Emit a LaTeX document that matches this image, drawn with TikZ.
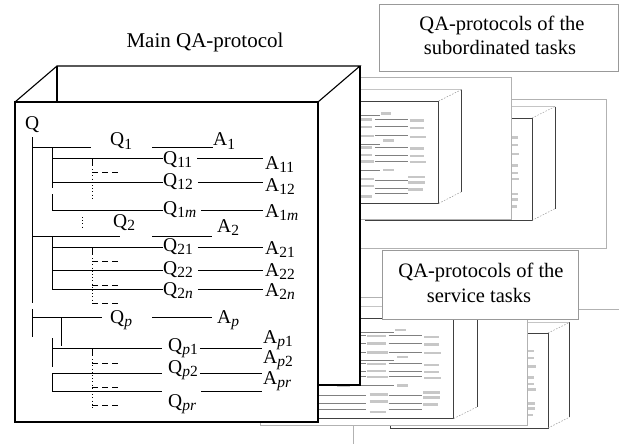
\documentclass[tikz,border=0pt]{standalone}
\usepackage{fontspec}
\setmainfont{Liberation Serif}
\usetikzlibrary{calc}

% lowered, slightly smaller index for Q/A labels
\newcommand\lsub[1]{\raisebox{-3.5pt}{\fontsize{15.5}{15.5}\selectfont #1}}

\tikzset{
  box/.style={line width=1.1pt, black, line join=miter},
  lbl/.style={anchor=base west, inner sep=0pt, font=\fontsize{19.5}{22}\selectfont},
  tree/.style={line width=0.9pt},
  stub/.style={line width=0.9pt, dash pattern=on 6pt off 4pt},
  dots/.style={line width=0.7pt, dash pattern=on 0.8pt off 2.4pt},
  page/.style={fill=white, draw=black!30, line width=0.9pt},
  caption/.style={fill=white, draw=black!40, line width=0.9pt},
  captext/.style={anchor=base, inner sep=0pt, font=\fontsize{20.5}{24}\selectfont},
  thumbedge/.style={line width=0.9pt, black!75},
  thumbfaint/.style={line width=0.5pt, black!35},
  thumbdash/.style={line width=0.5pt, black!40, dash pattern=on 1.5pt off 1.5pt},
  thumbline/.style={line width=0.5pt, black!50},
  thumbtext/.style={line width=2.6pt, black!22},
}

% miniature protocol box, drawn in the coordinates of the large one
\newcommand\thumbbox{%
  \fill[white] (15,102) rectangle (318,422);
  \draw[thumbedge] (15,102) rectangle (318,422);
  \draw[thumbfaint] (15,102) -- (57,66) -- (360,66);
  \draw[thumbedge] (360,66) -- (360,385);
  \draw[thumbdash] (318,102) -- (360,66) (318,422) -- (360,385);
}
\newcommand\thumbtree{%
  \foreach \xa/\xb/\yy in {26/42/122, 110/132/140, 213/232/140,
      163/197/159, 265/292/162, 163/197/183, 265/292/186,
      163/200/211, 265/295/214, 113/135/221, 217/237/226,
      163/197/248, 265/292/251, 163/197/271, 265/292/274,
      163/200/290, 265/295/293, 110/132/317, 217/237/317,
      168/200/345, 263/293/339, 263/293/356, 263/290/378,
      168/200/367, 168/197/401}
    {\draw[thumbtext] (\xa,\yy) -- (\xb,\yy);}
  \draw[thumbline] (32,137) -- (32,337)
    (32,147) -- (91,147) (152,147) -- (212,147)
    (52,147) -- (52,210)
    (32,236) -- (120,236) (152,236) -- (212,236)
    (52,236) -- (52,289)
    (32,317) -- (102,317) (152,317) -- (212,317)
    (61,317) -- (61,346) (52,338) -- (52,392);
  \foreach \yy in {158,182,210,247,270,289,348,373,391}
    {\draw[thumbline] (52,\yy) -- (162,\yy) (202,\yy) -- (262,\yy);}
}
\newcommand\thumbnail[4]{%
  \begin{scope}[shift={(#1,#2)}, xscale=#3, yscale=#4]
    \thumbbox
    \thumbtree
  \end{scope}
}
% one indented answer row of the large tree
\newcommand\subrow[4]{% #1 row y, #2 branch x, #3 question node, #4 answer node
  \coordinate (#3row) at (#2,#1);
  \draw[tree] (#3row) -- (#3row -| #3.west);
  \draw[tree] ($(#3row -| #3.east)+(5,0)$) -- ($(#3row -| #4.west)+(-2,0)$);
}

\begin{document}
\begin{tikzpicture}[x=1pt,y=-1pt]
\useasboundingbox (0,0) rectangle (619,444);
\clip (0,0) rectangle (619,444);

% ---- protocols of the service tasks ----
\draw[page] (353,309) rectangle (640,470);
\begin{scope}
  \clip (353,309) rectangle (640,470);
  \thumbnail{382.6}{302.7}{0.52}{0.297}
\end{scope}
\draw[page] (260,297) rectangle (527,425);
\begin{scope}
  \clip (260,297) rectangle (527,425);
  \thumbnail{275.6}{286}{0.56}{0.314}
\end{scope}
\node[caption, anchor=north west, minimum width=196, minimum height=69] (servbox) at (382,250) {};
\node[captext] (serv1) at (481,277) {QA-protocols of the};
\node[captext] (serv2) at (479,302) {service tasks};

% ---- protocols of the subordinated tasks ----
\draw[page] (340,99) rectangle (606,248);
\begin{scope}
  \clip (340,99) rectangle (606,248);
  \thumbnail{357.1}{85.4}{0.55}{0.32}
\end{scope}
\draw[page] (340,77) rectangle (511,219);
\begin{scope}
  \clip (340,77) rectangle (511,219);
  \thumbnail{263.75}{68.4}{0.55}{0.32}
\end{scope}
\node[caption, anchor=north west, minimum width=239, minimum height=67] (subbox) at (379,4) {};
\node[captext] (sub1) at (502,31) {QA-protocols of the};
\node[captext] (sub2) at (500,55) {subordinated tasks};

% ---- main protocol box ----
\node[anchor=base, inner sep=0pt, font=\fontsize{21}{24}\selectfont] (title) at (205,48) {Main QA-protocol};
\fill[white] (15,102) -- (57,66) -- (360,66) -- (360,385) -- (318,385) -- (318,422) -- (15,422) -- cycle;
\draw[box] (15,102) rectangle (318,422);
\draw[box] (15,102) -- (57,66) -- (360,66) -- (318,102);
\draw[box] (57,66) -- (57,102);
\draw[box] (360,66) -- (360,385) -- (318,385);

% labels
\node[lbl] (q)   at (25,129)  {Q};
\node[lbl] (q1)  at (110,146) {Q\lsub{1}};
\node[lbl] (a1)  at (213,146) {A\lsub{1}};
\node[lbl] (q11) at (163,164) {Q\lsub{11}};
\node[lbl] (a11) at (265,169) {A\lsub{11}};
\node[lbl] (q12) at (163,186) {Q\lsub{12}};
\node[lbl] (a12) at (265,191) {A\lsub{12}};
\node[lbl] (q1m) at (163,214) {Q\lsub{1\textit{m}}};
\node[lbl] (a1m) at (265,217) {A\lsub{1\textit{m}}};
\node[lbl] (q2)  at (113,227) {Q\lsub{2}};
\node[lbl] (a2)  at (217,232) {A\lsub{2}};
\node[lbl] (q21) at (163,251) {Q\lsub{21}};
\node[lbl] (a21) at (265,254) {A\lsub{21}};
\node[lbl] (q22) at (163,274) {Q\lsub{22}};
\node[lbl] (a22) at (265,276) {A\lsub{22}};
\node[lbl] (q2n) at (163,295) {Q\lsub{2\textit{n}}};
\node[lbl] (a2n) at (265,296) {A\lsub{2\textit{n}}};
\node[lbl] (qp)  at (110,323) {Q\lsub{\textit{p}}};
\node[lbl] (ap)  at (217,323) {A\lsub{\textit{p}}};
\node[lbl] (qp1) at (168,351) {Q\lsub{\textit{p}1}};
\node[lbl] (ap1) at (263,343) {A\lsub{\textit{p}1}};
\node[lbl] (ap2) at (263,363) {A\lsub{\textit{p}2}};
\node[lbl] (apr) at (263,384) {A\lsub{\textit{pr}}};
\node[lbl] (qp2) at (168,373) {Q\lsub{\textit{p}2}};
\node[lbl] (qpr) at (168,407) {Q\lsub{\textit{pr}}};

% main trunk from Q
\coordinate (trunk) at (32,137);
\draw[tree] (trunk) -- (32,303) (32,309) -- (32,337);

% first-level questions
\coordinate (r1) at (32,147);
\draw[tree] (r1) -- ++(59,0);
\draw[tree] ($(r1 -| a1.west)+(-61,0)$) -- (r1 -| a1.west);
\coordinate (r2) at (32,236);
\draw[tree] (r2) -- ++(88,0);
\draw[tree] ($(r2 -| a2.west)+(-65,0)$) -- ($(r2 -| a2.west)+(-5,0)$);
\coordinate (rp) at (32,317);
\draw[tree] (rp) -- ++(70,0);
\draw[tree] ($(rp -| ap.west)+(-65,0)$) -- ($(rp -| ap.west)+(-5,0)$);

% branch of Q1
\draw[tree] (52,147) -- (52,188) (52,194) -- (52,210);
\subrow{158}{52}{q11}{a11}
\subrow{182}{52}{q12}{a12}
\subrow{210}{52}{q1m}{a1m}
\draw[tree] (92,158) -- (92,166);
\draw[dots] (92,169) -- (92,198);
\draw[stub] (92,172) -- (121,172);
\draw[dots] (82,217) -- (82,229);

% branch of Q2
\draw[tree] (52,236) -- (52,289);
\subrow{247}{52}{q21}{a21}
\subrow{270}{52}{q22}{a22}
\subrow{289}{52}{q2n}{a2n}
\draw[tree] (92,247) -- (92,255);
\draw[dots] (92,258) -- (92,305);
\draw[stub] (92,261) -- (121,261);
\draw[stub] (92,285) -- (121,285);
\draw[stub] (92,303) -- (121,303);

% branch of Qp
\draw[tree] (61,317) -- (61,346);
\draw[tree] (52,338) -- (52,367) (52,373) -- (52,392);
\coordinate (rp1) at (52,348);
\coordinate (rp2) at (52,373);
\coordinate (rpr) at (52,391);
\draw[tree] (rp1) -- ($(rp1 -| qp1.west)+(-6,0)$);
\draw[tree] ($(rp1 -| qp1.east)+(2,0)$) -- ($(rp1 -| ap1.west)+(-1,0)$);
\draw[tree] (rp2) -- ($(rp2 -| qp2.west)+(-6,0)$);
\draw[tree] ($(rp2 -| qp2.east)+(2,0)$) -- ($(rp2 -| apr.west)+(-1,0)$);
\draw[tree] (rpr) -- ($(rpr -| qpr.west)+(-6,0)$);
\draw[tree] ($(rpr -| qpr.east)+(5,0)$) -- ($(rpr -| apr.west)+(-1,0)$);
\draw[tree] (92,348) -- (92,356);
\draw[dots] (92,359) -- (92,408);
\draw[stub] (92,363) -- (121,363);
\draw[stub] (92,387) -- (121,387);
\draw[stub] (92,405) -- (121,405);
\end{tikzpicture}
\end{document}
